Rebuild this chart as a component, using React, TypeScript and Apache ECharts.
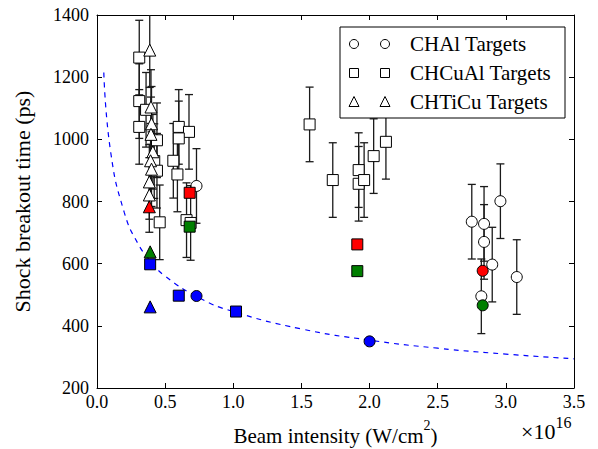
import React, { useEffect, useRef } from 'react';
import * as echarts from 'echarts';

// CHAl targets (white circles) with error bars
const chalX = [0.73, 2.75, 2.84, 2.96, 2.84, 2.90, 2.82, 3.08];
const chalY = [850, 735, 728, 801, 670, 597, 495, 557];
const chalErr = [120, 120, 120, 120, 120, 120, 120, 120];

// CHCuAl targets (white squares) with error bars
const cuX = [0.31, 0.31, 0.36, 0.31, 0.44, 0.42, 0.44, 0.46, 0.60, 0.675, 0.60, 0.56, 0.59, 0.657, 0.687, 1.56, 1.73, 1.92, 1.92, 1.96, 2.03, 2.12];
const cuY = [1263, 1123, 1095, 1040, 997, 930, 899, 733, 1040, 1024, 1003, 931, 887, 740, 731, 1048, 869, 901, 857, 869, 946, 992];
const cuErr = [120, 120, 120, 120, 120, 120, 120, 120, 120, 120, 120, 120, 120, 120, 120, 120, 120, 120, 120, 120, 120, 120];

// CHTiCu targets (white triangles) with error bars
const tiX = [0.387, 0.396, 0.40, 0.396, 0.41, 0.393, 0.40, 0.384, 0.384];
const tiY = [1287, 1104, 1050, 1016, 960, 931, 904, 863, 821];
const tiErr = [120, 120, 120, 120, 120, 120, 120, 120, 120];

// coloured points
const chalRed = [[2.83, 577]];
const chalGreen = [[2.83, 466]];
const chalBlue = [[0.73, 496], [2.0, 350]];
const cuRed = [[0.68, 828], [1.91, 662]];
const cuGreen = [[0.68, 719], [1.91, 576]];
const cuBlue = [[0.39, 598], [0.60, 497], [1.02, 446]];
const tiRed = [[0.384, 783]];
const tiGreen = [[0.39, 638]];
const tiBlue = [[0.39, 461]];

// dashed fit curve
const fitX = [0.05, 0.1, 0.2, 0.3, 0.4, 0.5, 0.75, 1.0, 1.5, 2.0, 2.5, 3.0, 3.5];
const fitY = [1215, 960, 765, 665, 605, 560, 490, 446, 390, 354, 328, 309, 294];

const legendNames = ['CHAl Targets', 'CHCuAl Targets', 'CHTiCu Targets'];

const FONT = 'Liberation Serif';

function errData(xs: number[], ys: number[], es: number[]) {
  return xs.map((x, i) => [x, ys[i] - es[i], ys[i] + es[i]]);
}
function pts(xs: number[], ys: number[]) {
  return xs.map((x, i) => [x, ys[i]]);
}

const errRender = (params: any, api: any) => {
  const x = api.value(0);
  const lo = api.value(1);
  const hi = api.value(2);
  const p1 = api.coord([x, hi]);
  const p2 = api.coord([x, lo]);
  const w = 4;
  const st = { stroke: '#1a1a1a', lineWidth: 1.3 };
  return {
    type: 'group',
    children: [
      { type: 'line', shape: { x1: p1[0], y1: p1[1], x2: p2[0], y2: p2[1] }, style: st },
      { type: 'line', shape: { x1: p1[0] - w, y1: p1[1], x2: p1[0] + w, y2: p1[1] }, style: st },
      { type: 'line', shape: { x1: p2[0] - w, y1: p2[1], x2: p2[0] + w, y2: p2[1] }, style: st },
    ],
  };
};

function errSeries(data: number[][]) {
  return {
    type: 'custom',
    renderItem: errRender,
    data,
    encode: { x: 0, y: [1, 2] },
    clip: true,
    z: 2,
    silent: true,
  };
}

function scat(data: number[][], symbol: string, size: number, color: string, z = 3) {
  return {
    type: 'scatter',
    data,
    symbol,
    symbolSize: size,
    itemStyle: { color, borderColor: '#000', borderWidth: 1, opacity: 1 },
    z,
    silent: true,
  };
}

export default function App() {
  const ref = useRef<HTMLDivElement>(null);
  useEffect(() => {
    document.body.style.margin = '0';
    if (!ref.current) return;
    const chart = echarts.init(ref.current, null, { renderer: 'svg' });
    const tickStyle = { inside: true, length: 5, lineStyle: { color: '#000', width: 1 } };
    const axisLine = { show: true, onZero: false, lineStyle: { color: '#000', width: 1 } };

    const legendX1 = 354;
    const legendX2 = 385;
    const rowsY = [44, 73, 102];
    const ms = 9;
    const markerFor = (i: number, cx: number, cy: number) => {
      const st = { fill: '#fff', stroke: '#000', lineWidth: 1 };
      if (i === 0) return { type: 'circle', shape: { cx, cy, r: ms / 2 }, style: st };
      if (i === 1) return { type: 'rect', shape: { x: cx - ms / 2, y: cy - ms / 2, width: ms, height: ms }, style: st };
      return {
        type: 'polygon',
        shape: { points: [[cx, cy - ms / 2 - 1], [cx - ms / 2 - 0.5, cy + ms / 2], [cx + ms / 2 + 0.5, cy + ms / 2]] },
        style: st,
      };
    };
    const legendEls: any[] = [
      { type: 'rect', shape: { x: 340, y: 27, width: 225, height: 91 }, style: { fill: '#fff', stroke: '#000', lineWidth: 1 }, z: 100 },
    ];
    legendNames.forEach((n, i) => {
      legendEls.push({ ...markerFor(i, legendX1, rowsY[i]), z: 101 });
      legendEls.push({ ...markerFor(i, legendX2, rowsY[i]), z: 101 });
      legendEls.push({
        type: 'text',
        x: 410,
        y: rowsY[i],
        style: { text: n, fontFamily: FONT, fontSize: 21, fill: '#000', verticalAlign: 'middle', align: 'left' },
        z: 101,
      });
    });
    legendEls.push({
      type: 'text',
      x: 521,
      y: 414,
      style: {
        text: '{a|×10}{s|16}',
        rich: {
          a: { fontFamily: FONT, fontSize: 22, fill: '#000', verticalAlign: 'bottom', lineHeight: 28 },
          s: { fontFamily: FONT, fontSize: 16, fill: '#000', verticalAlign: 'top', lineHeight: 28 },
        },
      },
      z: 101,
    });

    const option: any = {
      animation: false,
      backgroundColor: '#fff',
      grid: { left: 97, top: 15, width: 477, height: 373, containLabel: false, outerBoundsMode: 'none' },
      xAxis: [
        {
          type: 'value', min: 0, max: 3.5, interval: 0.5,
          axisLine, axisTick: tickStyle, splitLine: { show: false },
          axisLabel: { formatter: (v: number) => v.toFixed(1), fontFamily: FONT, fontSize: 18, color: '#000', margin: 5 },
          name: '{a|Beam intensity (W/cm}{s|2}{a|)}',
          nameLocation: 'middle', nameGap: 30,
          nameTextStyle: {
            rich: {
              a: { fontFamily: FONT, fontSize: 21, color: '#000', verticalAlign: 'bottom', lineHeight: 28 },
              s: { fontFamily: FONT, fontSize: 14, color: '#000', verticalAlign: 'top', lineHeight: 28 },
            },
          },
        },
        {
          type: 'value', min: 0, max: 3.5, interval: 0.5, position: 'top',
          axisLine, axisTick: tickStyle, splitLine: { show: false }, axisLabel: { show: false },
        },
      ],
      yAxis: [
        {
          type: 'value', min: 200, max: 1400, interval: 200,
          axisLine, axisTick: tickStyle, splitLine: { show: false },
          axisLabel: { formatter: (v: number) => String(v), fontFamily: FONT, fontSize: 18, color: '#000', margin: 8 },
          name: 'Shock breakout time (ps)', nameLocation: 'middle', nameGap: 64,
          nameTextStyle: { fontFamily: FONT, fontSize: 22, color: '#000' },
        },
        {
          type: 'value', min: 200, max: 1400, interval: 200, position: 'right',
          axisLine, axisTick: tickStyle, splitLine: { show: false }, axisLabel: { show: false },
        },
      ],
      graphic: legendEls,
      series: [
        {
          type: 'line', data: pts(fitX, fitY), smooth: true, symbol: 'none',
          lineStyle: { color: '#0000ff', width: 1.2, type: [5, 5] }, z: 1, silent: true,
        },
        errSeries(errData(cuX, cuY, cuErr)),
        errSeries(errData(tiX, tiY, tiErr)),
        errSeries(errData(chalX, chalY, chalErr)),
        scat(pts(cuX, cuY), 'rect', 11, '#fff'),
        scat(pts(tiX, tiY), 'triangle', 12, '#fff'),
        scat(pts(chalX, chalY), 'circle', 11, '#fff'),
        scat(chalRed, 'circle', 11, '#ff0000', 4),
        scat(chalGreen, 'circle', 11, '#007f00', 4),
        scat(chalBlue, 'circle', 11, '#0000ff', 4),
        scat(cuRed, 'rect', 11, '#ff0000', 4),
        scat(cuGreen, 'rect', 11, '#007f00', 4),
        scat(cuBlue, 'rect', 11, '#0000ff', 4),
        scat(tiRed, 'triangle', 12, '#ff0000', 4),
        scat(tiGreen, 'triangle', 12, '#007f00', 4),
        scat(tiBlue, 'triangle', 12, '#0000ff', 4),
      ],
    };
    chart.setOption(option);
    return () => chart.dispose();
  }, []);
  return <div ref={ref} style={{ width: 598, height: 449 }} />;
}
